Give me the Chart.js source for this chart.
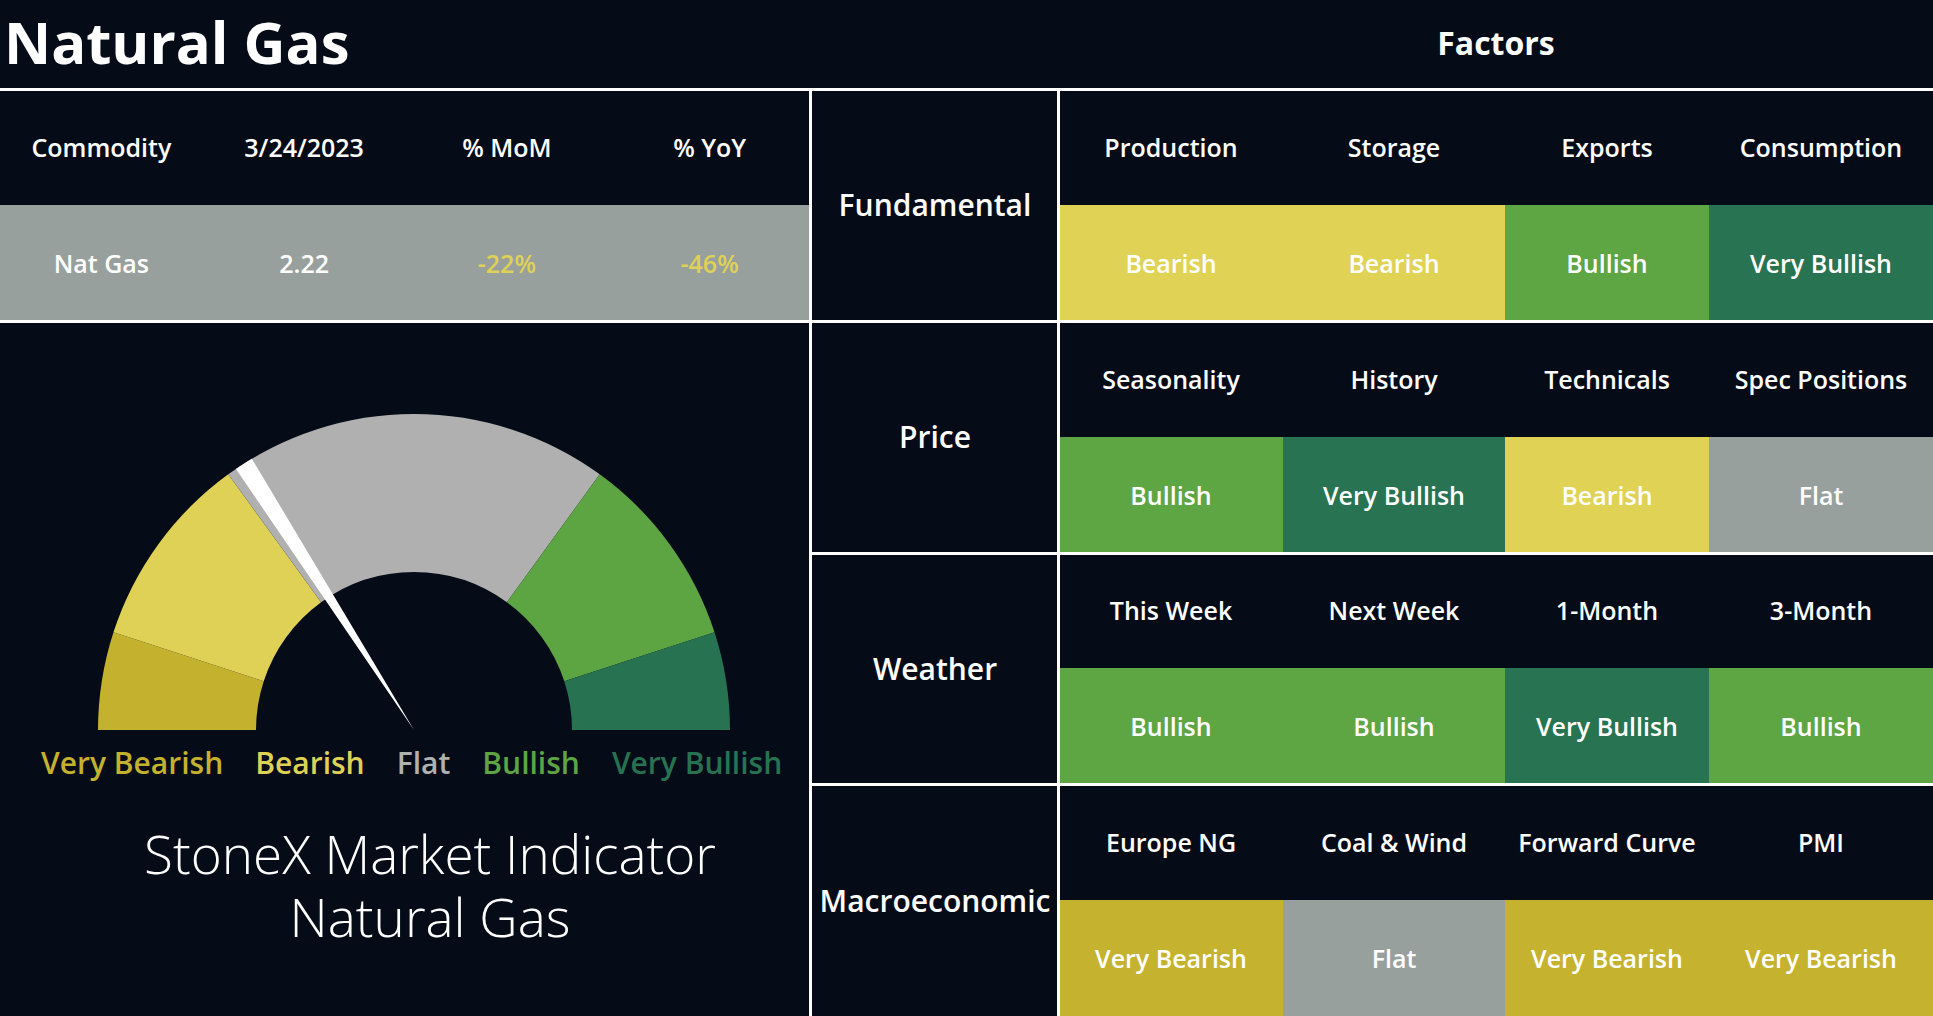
<!DOCTYPE html>
<html>
<head>
<meta charset="utf-8">
<script src="https://cdn.jsdelivr.net/npm/chart.js@4.4.0/dist/chart.umd.min.js"></script>
<style>
  html, body { margin: 0; padding: 0; }
  body {
    width: 1933px; height: 1016px; overflow: hidden; position: relative;
    background: #050c18; color: #fff; font-family: "Open Sans", sans-serif;
  }
  .abs { position: absolute; }
  .line { position: absolute; background: #fff; }
  .cell {
    position: absolute; display: flex; align-items: center; justify-content: center;
    font-weight: 600; font-size: 25px; white-space: nowrap;
  }
  #title { position: absolute; left: 4px; top: 42px; transform: translateY(-50%); font-size: 58px; font-weight: 700; line-height: 1; }
  #factorsTitle { position: absolute; left: 1059px; width: 874px; top: 43px; transform: translateY(-50%); text-align: center; font-size: 32px; font-weight: 700; line-height: 1; }
  #gaugeBox { position: absolute; left: 98px; top: 414px; width: 632px; height: 316px; }
  #gaugeBox canvas { position: absolute; left: 0; top: 0; }
  #legend { position: absolute; left: 41px; top: 763px; transform: translateY(-50%); display: flex; gap: 32px; font-size: 30px; font-weight: 600; line-height: 1; white-space: nowrap; }
  #caption { position: absolute; left: 80px; width: 700px; top: 822px; text-align: center; font-size: 53px; font-weight: 300; line-height: 63px; }
</style>
</head>
<body>
<div id="title">Natural Gas</div>
<div id="factorsTitle">Factors</div>

<div id="gaugeBox">
  <canvas id="gauge"></canvas>
  <canvas id="needle"></canvas>
</div>
<div id="legend"></div>
<div id="caption">StoneX Market Indicator<br>Natural Gas</div>

<script>
// gauge
const gaugeLabels = ['Very Bearish', 'Bearish', 'Flat', 'Bullish', 'Very Bullish'];
const gaugeBands = [10, 20, 40, 20, 10];
const gaugeColors = ['#c4b12e', '#dfd156', '#b0b0b0', '#5da443', '#277251'];
const needleValue = 31.9;
const needleWidth = 1.9;

// commodity table
const commodityHeaders = ['Commodity', '3/24/2023', '% MoM', '% YoY'];
const commodityRow = ['Nat Gas', '2.22', '-22%', '-46%'];

// factors
const factorGroups = ['Fundamental', 'Price', 'Weather', 'Macroeconomic'];
const fundamentalFactors = ['Production', 'Storage', 'Exports', 'Consumption'];
const fundamentalSignals = ['Bearish', 'Bearish', 'Bullish', 'Very Bullish'];
const priceFactors = ['Seasonality', 'History', 'Technicals', 'Spec Positions'];
const priceSignals = ['Bullish', 'Very Bullish', 'Bearish', 'Flat'];
const weatherFactors = ['This Week', 'Next Week', '1-Month', '3-Month'];
const weatherSignals = ['Bullish', 'Bullish', 'Very Bullish', 'Bullish'];
const macroFactors = ['Europe NG', 'Coal & Wind', 'Forward Curve', 'PMI'];
const macroSignals = ['Very Bearish', 'Flat', 'Very Bearish', 'Very Bearish'];

const signalColors = {
  'Very Bearish': '#c5b22f',
  'Bearish': '#e0d254',
  'Flat': '#98a09e',
  'Bullish': '#5ea544',
  'Very Bullish': '#287352'
};
const negColor = '#dfd156';

function addEl(cls, css, text) {
  const d = document.createElement('div');
  d.className = cls;
  Object.assign(d.style, css);
  if (text !== undefined) d.textContent = text;
  document.body.appendChild(d);
  return d;
}

// left table
const leftW = 811 / 4;
commodityHeaders.forEach((h, i) => {
  addEl('cell', { left: i * leftW + 'px', width: leftW + 'px', top: '89px', height: '116px' }, h);
});
addEl('abs', { left: '0px', top: '205px', width: '811px', height: '116px', background: '#98a09e' });
commodityRow.forEach((v, i) => {
  addEl('cell', {
    left: i * leftW + 'px', width: leftW + 'px', top: '205px', height: '116px',
    color: v.startsWith('-') ? negColor : '#fff'
  }, v);
});

// factor grid
const colX = [1059, 1283, 1505, 1709, 1933];
const rowTop = 89, rowH = (1016 - 89) / 4;
const groupFactors = [fundamentalFactors, priceFactors, weatherFactors, macroFactors];
const groupSignals = [fundamentalSignals, priceSignals, weatherSignals, macroSignals];
factorGroups.forEach((g, r) => {
  const y = rowTop + r * rowH;
  addEl('cell', { left: '811px', width: '248px', top: y + 'px', height: rowH + 'px', fontSize: '30px' }, g);
  groupFactors[r].forEach((f, c) => {
    const w = colX[c + 1] - colX[c];
    addEl('cell', { left: colX[c] + 'px', width: w + 'px', top: y + 'px', height: rowH / 2 + 'px' }, f);
    const s = groupSignals[r][c];
    addEl('cell', {
      left: colX[c] + 'px', width: w + 'px', top: y + rowH / 2 + 'px', height: rowH / 2 + 'px',
      background: signalColors[s]
    }, s);
  });
});

// rules
addEl('line', { left: '0px', top: '88px', width: '1933px', height: '3px' });
addEl('line', { left: '0px', top: '320px', width: '1933px', height: '3px' });
addEl('line', { left: '811px', top: (rowTop + 2 * rowH - 1) + 'px', width: '1122px', height: '3px' });
addEl('line', { left: '811px', top: (rowTop + 3 * rowH - 1) + 'px', width: '1122px', height: '3px' });
addEl('line', { left: '809px', top: '89px', width: '3px', height: '927px' });
addEl('line', { left: '1057px', top: '89px', width: '3px', height: '927px' });

// gauge legend
const legend = document.getElementById('legend');
gaugeLabels.forEach((l, i) => {
  const s = document.createElement('span');
  s.textContent = l;
  s.style.color = gaugeColors[i];
  legend.appendChild(s);
});

const baseOptions = {
  rotation: -90,
  circumference: 180,
  responsive: true,
  maintainAspectRatio: false,
  animation: false,
  events: [],
  layout: { padding: 0 },
  plugins: { legend: { display: false }, tooltip: { enabled: false } }
};

new Chart(document.getElementById('gauge'), {
  type: 'doughnut',
  data: {
    labels: gaugeLabels,
    datasets: [{ data: gaugeBands, backgroundColor: gaugeColors, borderWidth: 0 }]
  },
  options: Object.assign({}, baseOptions, { cutout: '50%' })
});

const total = gaugeBands.reduce((a, b) => a + b, 0);
const needleStart = needleValue - needleWidth / 2;
new Chart(document.getElementById('needle'), {
  type: 'pie',
  data: {
    labels: ['', 'needle', ''],
    datasets: [{
      data: [needleStart, needleWidth, total - needleStart - needleWidth],
      backgroundColor: ['rgba(0,0,0,0)', '#ffffff', 'rgba(0,0,0,0)'],
      borderWidth: 0
    }]
  },
  options: baseOptions
});
</script>
</body>
</html>
